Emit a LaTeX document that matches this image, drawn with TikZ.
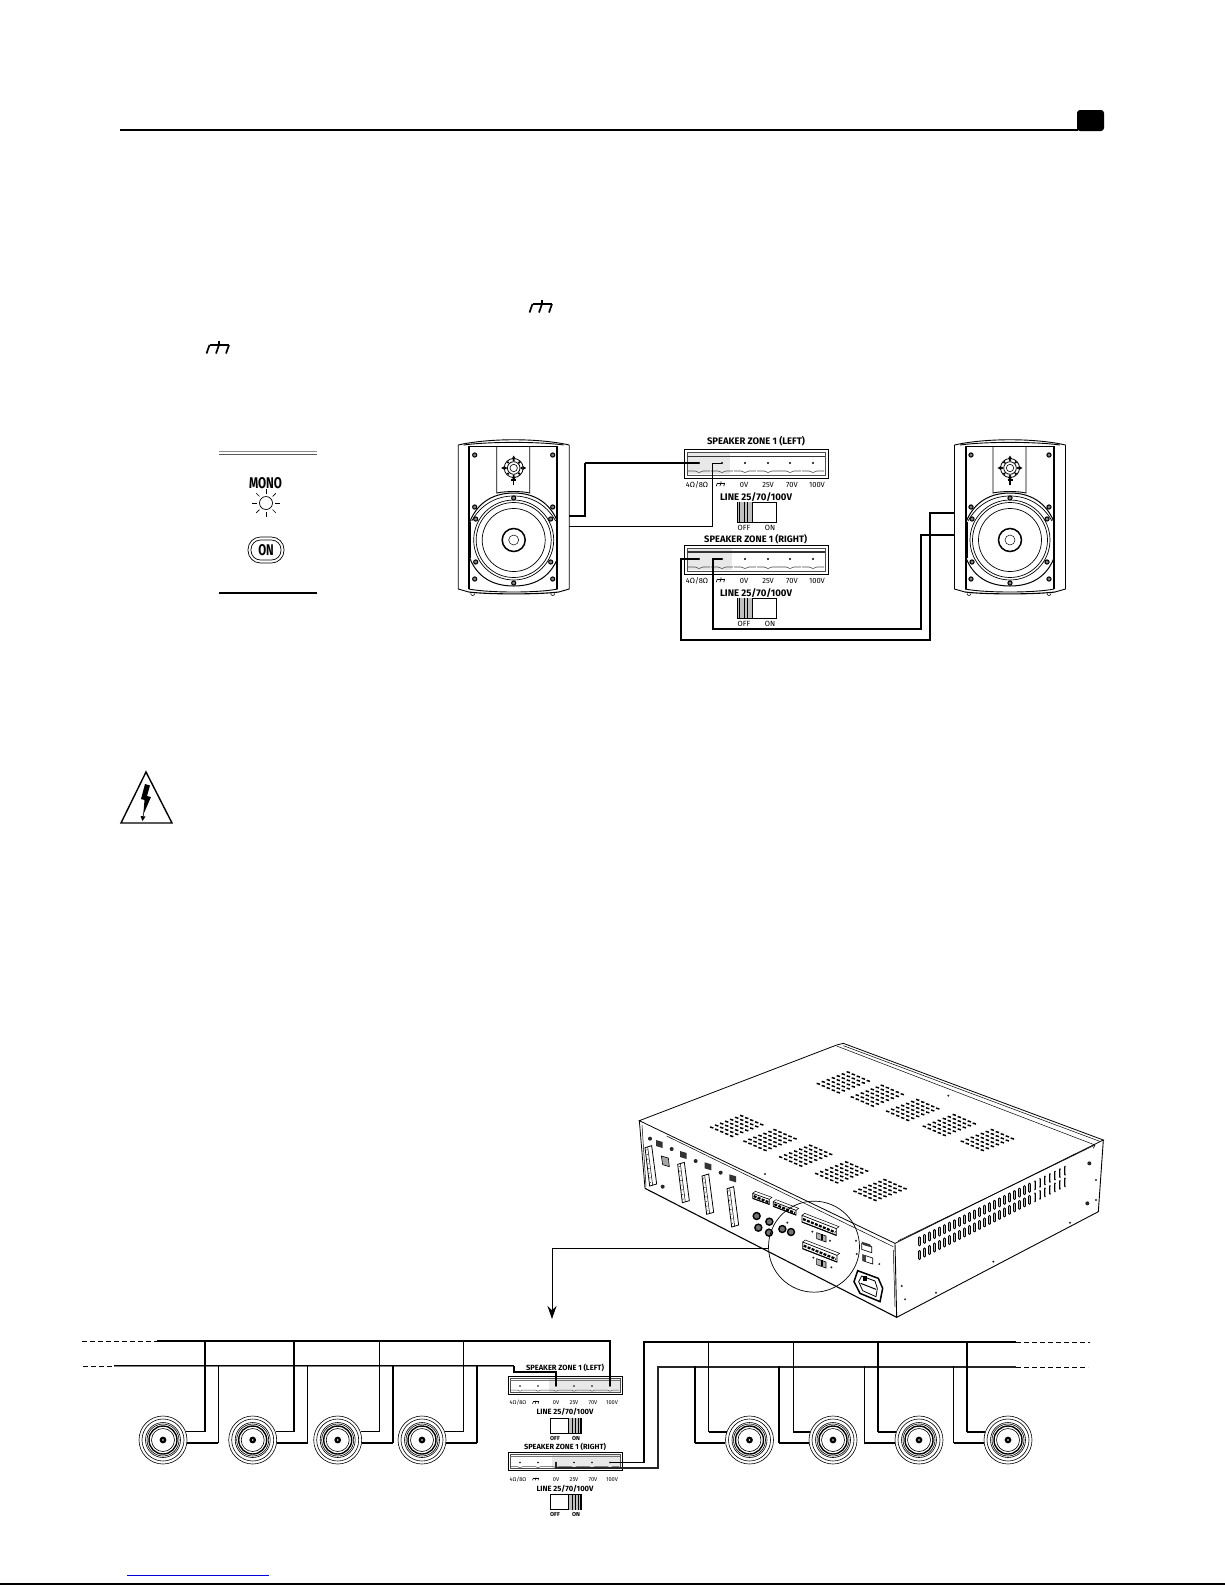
\documentclass[tikz,border=0pt]{standalone}
\usepackage{fontspec}
\setmainfont{Fira Sans}
\usetikzlibrary{arrows.meta}
\tikzset{
 thinw/.style={line width=1pt,black},
 thickw/.style={line width=1.9pt,black},
 fine/.style={line width=.6pt,black},
 lab/.style={inner sep=0pt,outer sep=0pt,black},
 ring/.style={circle,draw,inner sep=0pt,line width=.6pt,fill=white},
 vd/.style={line width=1.5pt,black},
}
\newcommand{\fs}[1]{\fontsize{#1}{#1}\selectfont}
\newcommand{\gnd}[3]{% x y scale
 \begin{scope}[shift={(#1pt,{-(#2)*1pt})},x=#3pt,y=-#3pt]
 \draw[line width=#3*1.7pt] (-9.5,0) -- (10,0);
 \draw[line width=#3*1.7pt] (0,-4) -- (0,0) (-9.5,0) -- (-12.5,8.5) (0,0) -- (-3,8.5) (10,0) -- (7,8.5);
 \end{scope}}
% big terminal block
\newcommand{\bigblock}[5]{% name dy hlEnd title topline-width
 \filldraw[fill=white,line width=1pt] (684,449+#2) rectangle (828,478+#2);
 \fill[black!9] (687,453+#2) rectangle (#3,474+#2);
 \draw[line width=.6pt,black!70] (687,452+#2) rectangle (825,475+#2);
 \draw[line width=#5,black!80] (687,456+#2) -- (825,456+#2);
 \foreach \px in {699,722,745,768,790,813}{
  \draw[line width=.6pt,black!70] (\px-11,471+#2) -- (\px-4,471+#2) .. controls (\px-2,471+#2) and (\px-2,472.5+#2) .. (\px,472.5+#2) .. controls (\px+2,472.5+#2) and (\px+2,471+#2) .. (\px+4,471+#2) -- (\px+11,471+#2);
 }
 \foreach \i/\px in {1/699,2/722,3/745,4/768,5/790,6/813}{
  \coordinate (#1-\i) at (\px,463+#2);
  \fill (#1-\i) circle (1.2pt);
 }
 \node[lab] (#1-l1) at (697,485+#2) {\fs{7.5}4Ω/8Ω};
 \gnd{721}{483+#2}{.38}
 \node[lab] (#1-l3) at (744,485+#2) {\fs{7.5}0V};
 \node[lab] (#1-l4) at (768,485+#2) {\fs{7.5}25V};
 \node[lab] (#1-l5) at (792,485+#2) {\fs{7.5}70V};
 \node[lab] (#1-l6) at (817,485+#2) {\fs{7.5}100V};
 \node[lab] (#1-line) at (756,497+#2) {\resizebox{72pt}{!}{\bfseries LINE 25/70/100V}};
 \draw[line width=.7pt] (737,502+#2) rectangle (776,522+#2);
 \fill[black!25] (737,502+#2) rectangle (752,522+#2);
 \draw[line width=.7pt] (739,502+#2) -- (739,522+#2) (744,502+#2) -- (744,522+#2) (747,502+#2) -- (747,522+#2) (752,502+#2) -- (752,522+#2);
 \draw[line width=1.6pt] (737.5,502+#2) -- (737.5,522+#2);
 \node[lab] (#1-off) at (744,528+#2) {\fs{7.5}OFF};
 \node[lab] (#1-on) at (770,528+#2) {\fs{7.5}ON};
 #4
}
% small terminal block
\newcommand{\smallblock}[5]{% name dy hlStart title topline-width
 \filldraw[fill=white,line width=1pt] (508,1376+#2) rectangle (622,1394+#2);
 \fill[black!9] (#3,1378+#2) rectangle (620,1392+#2);
 \draw[line width=.5pt,black!70] (510,1378+#2) rectangle (620,1392+#2);
 \draw[line width=#5,black!55] (510,1380+#2) -- (620,1380+#2);
 \foreach \px in {520,538,556,574,592,610}{
  \draw[line width=.5pt,black!70] (\px-9,1390+#2) -- (\px-3,1390+#2) .. controls (\px-1.5,1390+#2) and (\px-1.5,1391.2+#2) .. (\px,1391.2+#2) .. controls (\px+1.5,1391.2+#2) and (\px+1.5,1390+#2) .. (\px+3,1390+#2) -- (\px+9,1390+#2);
 }
 \foreach \i/\px in {1/520,2/538,3/556,4/574,5/592,6/610}{
  \coordinate (#1-\i) at (\px,1386+#2);
  \fill (#1-\i) circle (.9pt);
 }
 \node[lab] (#1-l1) at (518,1403+#2) {\fs{5.6}4Ω/8Ω};
 \gnd{536}{1401.5+#2}{.28}
 \node[lab] (#1-l3) at (556,1403+#2) {\fs{5.6}0V};
 \node[lab] (#1-l4) at (574,1403+#2) {\fs{5.6}25V};
 \node[lab] (#1-l5) at (593,1403+#2) {\fs{5.6}70V};
 \node[lab] (#1-l6) at (612,1403+#2) {\fs{5.6}100V};
 \node[lab] (#1-line) at (565,1412+#2) {\resizebox{57pt}{!}{\bfseries LINE 25/70/100V}};
 \draw[line width=.7pt] (550,1418+#2) rectangle (581,1433+#2);
 \fill[black!25] (568,1418+#2) rectangle (581,1433+#2);
 \draw[line width=.6pt] (568,1418+#2) -- (568,1433+#2) (572,1418+#2) -- (572,1433+#2) (575,1418+#2) -- (575,1433+#2) (578,1418+#2) -- (578,1433+#2);
 \draw[line width=1.1pt] (580.5,1418+#2) -- (580.5,1433+#2);
 \node[lab] (#1-off) at (555,1438+#2) {\fs{5.8}\bfseries OFF};
 \node[lab] (#1-on) at (576,1438+#2) {\fs{5.8}\bfseries ON};
 #4
}
% wall speaker, coordinates relative to cone centre
\newcommand{\speaker}[2]{%
 \begin{scope}[shift={(#2pt,-540pt)}]
 \draw[line width=.9pt] (-55.5,-95) -- (-55.5,49) -- (-45,52) (55.5,-95) -- (55.5,49) -- (45,52);
 \draw[line width=.9pt] (-55.5,-95) .. controls (-25,-102) and (25,-102) .. (55.5,-95);
 \draw[line width=.9pt] (-50,-95) .. controls (-25,-98.5) and (25,-98.5) .. (50,-95);
 \draw[line width=.9pt] (-45,-94) -- (44,-94) (-45,-94) -- (-45,49) (44,-94) -- (44,49);
 \draw[line width=.5pt] (-44,-94) -- (-44,49) (43,-94) -- (43,49);
 \draw[line width=.9pt] (-45,49) .. controls (-25,53) and (25,53) .. (44,49);
 \draw[line width=1.1pt] (-45,52) .. controls (-25,54.5) and (25,54.5) .. (45,52);
 \draw[line width=.6pt] (-43,53.5) arc[start angle=180,end angle=360,radius=2pt];
 \draw[line width=.6pt] (37,53.5) arc[start angle=180,end angle=360,radius=2pt];
 \draw[line width=.9pt] (-17,-94) -- (-17,-47) .. controls (-8,-49) and (8,-49) .. (16,-47) -- (16,-94);
 \foreach \a in {0,90,180,270}{\fill (0,-72) ++(\a:12.5pt) -- ++(\a+150:4pt) -- ++(\a+270:4pt) -- cycle;}
 \foreach \a in {0,45,...,315}{\fill (0,-72) ++(\a:8pt) circle (1.3pt);}
 \draw[line width=.8pt] (0,-72) circle (9.5pt) (0,-72) circle (6.3pt);
 \draw[line width=.6pt] (0,-72) circle (3.7pt);
 \draw[line width=1.1pt] (-2.5,-60) -- (2.5,-60) (0,-60) -- (0,-55);
 \draw[line width=1pt] (-44,-18) .. controls (-36,-38) and (-20,-47) .. (0,-47) .. controls (20,-47) and (36,-38) .. (44,-18);
 \draw[line width=.7pt] (-42,-19) .. controls (-33,-35) and (-18,-44) .. (0,-44) .. controls (18,-44) and (33,-35) .. (42,-19);
 \draw[line width=.7pt] (-43,-18) -- (-43,18) (43,-18) -- (43,18);
 \draw[line width=1pt] (-44,18) .. controls (-36,38) and (-20,46) .. (0,46) .. controls (20,46) and (36,38) .. (44,18);
 \draw[line width=.7pt] (0,0) circle (40pt) (0,0) circle (37.5pt) (0,0) circle (31.5pt);
 \draw[line width=1.5pt] (0,0) circle (11.5pt);
 \draw[line width=.5pt] (0,0) circle (5pt);
 \foreach \p in {(-39,-85),(39,-85),(-39,39),(39,39),(0,-42),(0,43),(-39,-33),(39,-33),(-38,-21),(37,-21),(-38,22),(37,22)}{
  \filldraw[fill=black!50,line width=1pt] \p circle (2.1pt);
 }
 \coordinate (#1-r1) at (55.5,-24);
 \coordinate (#1-r2) at (55.5,-14);
 \coordinate (#1-l1) at (-55.5,-27);
 \coordinate (#1-l2) at (-55.5,-5);
 \end{scope}}
\newcommand{\coax}[3]{% name x y
 \node[ring,minimum size=48pt] (#1) at (#2,#3) {};
 \draw[line width=.6pt] (#1) circle (21pt) (#1) circle (17.5pt);
 \draw[line width=.6pt] (#1) circle (16pt);
 \draw[line width=1.4pt] (#1) circle (14pt);
 \draw[line width=.6pt] (#1) circle (11.5pt);
 \fill (#1) circle (3.4pt);
 \fill[white] (#1) circle (.9pt);
}
% wire from a loudspeaker to a bus drop
\newcommand{\dropw}[4]{% anchor, drop coordinate, horiz style, vert style
 \draw[#3] (#1) -- (#1 -| #2);
 \draw[#4] (#1 -| #2) -- (#2);
}
\newcommand{\tstrip}[2]{%
 \filldraw[fill=white,line width=.8pt] (#1,#2+3) -- (#1+20,#2-3) -- (#1+35,#2+112) -- (#1+14,#2+118) -- cycle;
 \draw[line width=.5pt] (#1+8,#2+1) -- (#1+23,#2+116);
 \foreach \k in {0,...,7}{\draw[line width=.6pt,black!70] ({#1+3+\k*1.5},{#2+10+\k*14}) -- ++(5,-1);}
}
\newcommand{\blk}[2]{\fill[black!80] (#1,#2) -- (#1+20,#2+6) -- (#1+20,#2+24) -- (#1,#2+18) -- cycle;}
\newcommand{\tb}[5]{% x y dx dy h
 \filldraw[fill=white,line width=.7pt] (#1,#2) -- (#1+#3,#2+#4) -- (#1+#3,#2+#4+#5) -- (#1,#2+#5) -- cycle;
 \draw[line width=2.2pt,dash pattern=on 3pt off 1.3pt] (#1+3,#2+#5*.55) -- (#1+#3-3,#2+#4+#5*.55);
 \draw[line width=1pt] (#1,#2+#5) -- (#1+#3,#2+#4+#5);
 \draw[line width=.5pt] (#1,#2) -- ++(8,-6) -- (#1+#3+8,#2+#4-6) -- (#1+#3,#2+#4);
}
\newcommand{\rca}[2]{\draw[line width=1.4pt,fill=black!55] (#1,#2) circle (3.5pt);}
\begin{document}
\begin{tikzpicture}[x=1pt,y=-1pt]
\useasboundingbox (0,0) rectangle (1225,1585);
\fill[white] (0,0) rectangle (1225,1585);
%% page furniture
\draw[line width=1.2pt] (120,130) -- (1078,130);
\fill[rounded corners=3pt] (1077,110) rectangle (1104,131);
\draw[line width=1pt,blue!85!black] (127,1575) -- (269,1575);
\draw[line width=1.6pt] (0,1584) -- (1225,1584);
\gnd{542}{304}{1}
\gnd{219}{345}{1}
%% panel
\draw[line width=1pt,black!45] (219,451) -- (317,451);
\draw[line width=1pt,black!65] (219,454) -- (317,454);
\draw[line width=1.1pt] (219,593) -- (317,593);
\node[lab] (mono) at (265.5,483) {\resizebox{33pt}{11pt}{\bfseries MONO}};
\node[circle,draw,line width=.7pt,minimum size=13pt,inner sep=0pt] (led) at (266,503) {};
\foreach \a in {0,45,...,315}{\draw[line width=.7pt] (led) ++(\a:9.3pt) -- ++(\a:4.5pt);}
\node[draw,rounded corners=12.5pt,line width=.7pt,minimum width=36pt,minimum height=26pt,inner sep=0pt] (onbtn) at (266,550) {};
\node[draw,rounded corners=9.5pt,line width=.7pt,minimum width=30pt,minimum height=20pt,inner sep=0pt] (onin) at (266,550) {};
\node[lab] (ontxt) at (266,550.5) {\resizebox{15.5pt}{11pt}{\bfseries ON}};
%% speakers
\speaker{spkL}{513.7}
\speaker{spkR}{1010}
%% upper blocks
\bigblock{bL}{0}{730}{\node[lab] (bL-title) at (756,441) {\resizebox{98pt}{!}{\bfseries SPEAKER ZONE 1 (LEFT)}};}{.8pt}
\bigblock{bR}{96}{732}{\node[lab] (bR-title) at (755.7,539) {\resizebox{103pt}{!}{\bfseries SPEAKER ZONE 1 (RIGHT)}};}{1.1pt}
\coordinate (w1) at (585,463);
\coordinate (w2) at (712,463);
\draw[line width=1.2pt] (spkL-r1) -| (w1);
\draw[thickw] (w1) -- (bL-1);
\draw[thinw] (spkL-r2) -| (w2) -- (bL-2);
\coordinate (w3) at (930,640);
\coordinate (w4) at (681,559);
\coordinate (w5) at (921,629);
\coordinate (w6) at (713,559);
\draw[line width=1.1pt] (spkR-l1) -| (w3) -| (w4) -- (bR-1);
\draw[line width=1.35pt] (spkR-l2) -| (w5) -| (w6) -- (bR-2);
%% amplifier
\begin{scope}[shift={(630pt,-1030pt)},x=.33333pt,y=-.33333pt]
 \draw[line width=.8pt] (28,272) -- (620,45) -- (640,40) -- (1420,330) -- (795,640) -- cycle;
 \draw[line width=.8pt] (28,272) -- (45,475);
 \draw[line width=.5pt] (36,285) -- (48,470);
 \draw[line width=1.1pt] (45,475) -- (800,862);
 \draw[line width=.9pt] (795,640) -- (800,862) -- (1405,545) -- (1420,330);
 \draw[line width=.5pt] (790,660) -- (795,830);
 \draw[line width=.5pt] (620,48) -- (1395,345) -- (1390,355);
 \draw[line width=.5pt] (640,47) -- (1412,335);
 \draw[line width=.5pt] (110,318) -- (790,650);
 \draw[line width=.5pt] (805,632) -- (1395,345);
 \foreach \c in {(640,157),(742,197),(848,240),(958,285),(1072,330),(320,288),(420,330),(527,377),(635,427),(750,480)}{
  \path \c coordinate (vc);
  \foreach \i in {-3,...,3}{\foreach \j in {-2,...,2}{
   \draw[vd] (vc) ++({15*\i+15*\j-5},{-5.8*\i+6.5*\j-1.5}) -- ++(10,3);
  }}
 }
 \foreach \n in {0,...,29}{
  \pgfmathsetmacro{\sx}{868+437*\n/29}
  \pgfmathsetmacro{\sa}{634-212*\n/29}
  \pgfmathsetmacro{\sb}{675-218*\n/29}
  \draw[line width=2.7pt,line cap=round,black] (\sx,\sa-11) -- (\sx,\sa+11);
  \draw[line width=2.7pt,line cap=round,black] (\sx,\sb-11) -- (\sx,\sb+11);
  \draw[line width=.8pt,line cap=round,black!30] (\sx,\sa-10) -- (\sx,\sa+10);
  \draw[line width=.8pt,line cap=round,black!30] (\sx,\sb-10) -- (\sx,\sb+10);
 }
 \tstrip{45}{350}\tstrip{143}{400}\tstrip{216}{435}\tstrip{291}{473}
 \blk{78}{330}\blk{150}{363}\blk{224}{397}\blk{298}{433}
 \filldraw[fill=black!35,line width=.6pt] (94,378) -- (115,384) -- (118,410) -- (98,404) -- cycle;
 \foreach \p in {(60,326),(125,357),(197,393),(272,428),(98,470)}{\fill[black!85] \p circle (2pt);}
 \foreach \p in {(1378,400),(1372,520)}{\fill[black!85] \p circle (2pt);}
 \foreach \p in {(405,432),(955,197),(1398,450),(1398,510),(815,768),(825,808),(918,788),(1090,695),(1320,578),(472,578),(547,605),(600,632),(550,683),(604,712),(678,632),(680,672),(748,702)}{\fill[black!85] \p circle (1.1pt);}
 \tb{368}{490}{50}{18}{15}
 \tb{430}{515}{68}{26}{14}
 \rca{380}{558}\rca{418}{575}\rca{385}{593}\rca{417}{608}\rca{457}{597}\rca{483}{606}
 \tb{516}{556}{103}{40}{20}
 \tb{518}{636}{103}{40}{20}
 \filldraw[fill=black!30,line width=.6pt] (560,608) -- (588,618) -- (588,636) -- (560,626) -- cycle;
 \fill (572,612) rectangle (580,631);
 \filldraw[fill=black!30,line width=.6pt] (560,686) -- (588,696) -- (588,714) -- (560,704) -- cycle;
 \fill (572,690) rectangle (580,709);
 \filldraw[fill=white,line width=.7pt] (695,640) -- (725,650) -- (725,668) -- (695,658) -- cycle;
 \fill[black!80] (695,635) -- (720,643) -- (725,652) -- (700,645) -- cycle;
 \draw[line width=.7pt] (698,674) -- (728,684) -- (728,702) -- (698,692) -- cycle;
 \fill[black!75] (698,674) rectangle (708,692);
 \draw[line width=1.5pt,fill=white] (683,722) -- (745,745) -- (758,775) -- (750,815) -- (690,790) -- (672,755) -- cycle;
 \draw[line width=.8pt] (695,738) -- (735,753) -- (742,775) -- (738,800) -- (698,782) -- (686,755) -- cycle;
 \fill (698,738) rectangle (712,752);
 \draw[line width=1pt] (692,760) -- (738,778);
 \node[circle,draw,line width=.7pt,minimum size=91pt,inner sep=0pt] (loupe) at (552,650) {};
\end{scope}
\coordinate (atip) at (552,1319);
\draw[thinw,-{Stealth[length=13pt,width=9pt]}] (loupe.182) -| (atip);
%% lower blocks
\smallblock{sL}{0}{549}{\node[lab] (sL-title) at (565,1368) {\resizebox{78pt}{!}{\bfseries SPEAKER ZONE 1 (LEFT)}};}{.6pt}
\smallblock{sR}{76.5}{552}{\node[lab] (sR-title) at (565,1447) {\resizebox{82pt}{!}{\bfseries SPEAKER ZONE 1 (RIGHT)}};}{.8pt}
%% buses
\coordinate (busAd) at (82,1341); \coordinate (busA) at (157,1341);
\coordinate (busBd) at (83,1366); \coordinate (busB) at (114,1366);
\coordinate (busBt) at (514,1366); \coordinate (busBj) at (514,1372);
\coordinate (busC1) at (644,1342); \coordinate (busC) at (1016,1342); \coordinate (busCd) at (1090,1342);
\coordinate (busD1) at (658,1367); \coordinate (busD) at (1016,1367); \coordinate (busDd) at (1088,1367);
\coordinate (sRj) at (556,1468);
\draw[thinw,dash pattern=on 5pt off 3pt] (busAd) -- (busA);
\draw[thinw,dash pattern=on 5pt off 3pt] (busBd) -- (busB);
\draw[thinw,dash pattern=on 5pt off 3pt] (busC) -- (busCd);
\draw[thinw,dash pattern=on 5pt off 3pt] (busD) -- (busDd);
\draw[thickw] (busA) -| (sL-6);
\draw[line width=2.2pt,black!50] (busB) -- (busBt);
\draw[line width=.6pt,black] (busB) ++(0,-.8) -- (514,1365.2);
\draw[line width=1.3pt] (busBt) -- (busBj) -| (sL-3);
\draw[line width=1.5pt] (sR-6) -| (busC1) -- (busC);
\draw[line width=1.5pt,black!85] (sR-3) -- (sRj) -| (busD1) -- (busD);
%% loudspeakers
\coax{c1}{163}{1440}\coax{c2}{252.7}{1440}\coax{c3}{337.7}{1440}\coax{c4}{422}{1440}
\coax{c5}{749.5}{1440}\coax{c6}{833}{1440}\coax{c7}{919}{1440}\coax{c8}{1008}{1440}
\coordinate (d1a) at (205,1339.5); \coordinate (d1b) at (218,1364.5);
\coordinate (d2a) at (294,1339.5); \coordinate (d2b) at (307.7,1364.5);
\coordinate (d3a) at (379,1339.5); \coordinate (d3b) at (392.7,1364.5);
\coordinate (d4a) at (463,1339.5); \coordinate (d4b) at (476.7,1364.5);
\coordinate (d5a) at (708.6,1340.5); \coordinate (d5b) at (695,1365.5);
\coordinate (d6a) at (793,1340.5); \coordinate (d6b) at (779,1365.5);
\coordinate (d7a) at (878,1340.5); \coordinate (d7b) at (864,1365.5);
\coordinate (d8a) at (967,1340.5); \coordinate (d8b) at (953.5,1365.5);
\dropw{c1.20}{d1a}{thinw}{thickw}\dropw{c1.-8}{d1b}{thickw}{thinw}
\dropw{c2.20}{d2a}{thinw}{thickw}\dropw{c2.-8}{d2b}{thickw}{thinw}
\dropw{c3.20}{d3a}{thinw}{thinw}\dropw{c3.-8}{d3b}{thickw}{thickw}
\dropw{c4.20}{d4a}{thinw}{thinw}\dropw{c4.-8}{d4b}{thickw}{thickw}
\dropw{c5.160}{d5a}{thickw}{thinw}\dropw{c5.188}{d5b}{thickw}{thickw}
\dropw{c6.160}{d6a}{thickw}{thinw}\dropw{c6.188}{d6b}{thickw}{thickw}
\dropw{c7.160}{d7a}{thickw}{thickw}\dropw{c7.188}{d7b}{thickw}{thinw}
\dropw{c8.160}{d8a}{thickw}{thickw}\dropw{c8.188}{d8b}{thickw}{thinw}
%% warning triangle
\draw[line width=1.4pt,line join=miter] (146,772) -- (172,823) -- (121,823) -- cycle;
\fill (145,784) -- (150,785.5) -- (147,796) -- (151,797) -- (144.5,812) -- (143.5,812) -- (144.5,800) -- (141,799) -- cycle;
\draw[line width=.6pt] (144,811) -- (143,817);
\fill (140.5,816) -- (145.5,816.5) -- (142.5,821) -- cycle;
\end{tikzpicture}
\end{document}
